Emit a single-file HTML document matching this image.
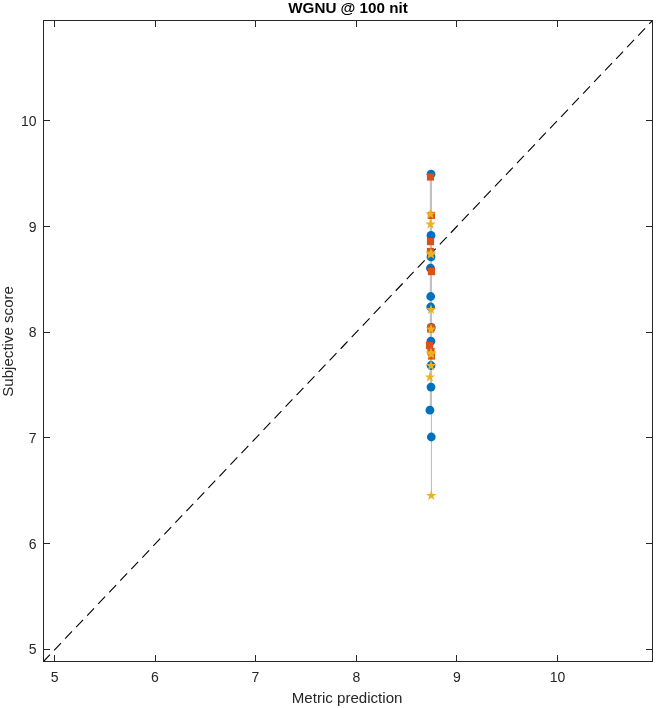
<!DOCTYPE html>
<html><head><meta charset="utf-8"><style>
html,body{margin:0;padding:0;background:#fff;width:656px;height:708px;overflow:hidden;position:relative;font-family:"Liberation Sans",sans-serif}
</style></head><body>
<svg width="656" height="708" viewBox="0 0 656 708" style="position:absolute;left:0;top:0;will-change:transform"><line x1="430.3" y1="176" x2="430.3" y2="410" stroke="#b8b8b8" stroke-width="1"/><line x1="431.4" y1="176" x2="431.4" y2="495" stroke="#b8b8b8" stroke-width="1"/><line x1="43.5" y1="661.5" x2="652.5" y2="20.5" stroke="#000" stroke-width="1.1" stroke-dasharray="10 6" stroke-dashoffset="0.6"/><circle cx="431" cy="174.2" r="4.4" fill="#0072BD"/><circle cx="431" cy="235.4" r="4.4" fill="#0072BD"/><circle cx="431" cy="256.9" r="4.4" fill="#0072BD"/><circle cx="430.5" cy="268.2" r="4.4" fill="#0072BD"/><circle cx="430.7" cy="296.5" r="4.4" fill="#0072BD"/><circle cx="430.7" cy="307.0" r="4.4" fill="#0072BD"/><circle cx="431.3" cy="327.5" r="4.4" fill="#0072BD"/><circle cx="430.9" cy="341.2" r="4.4" fill="#0072BD"/><circle cx="431" cy="365.5" r="4.4" fill="#0072BD"/><circle cx="431" cy="387.1" r="4.4" fill="#0072BD"/><circle cx="429.9" cy="410.2" r="4.4" fill="#0072BD"/><circle cx="431.3" cy="437.0" r="4.4" fill="#0072BD"/><rect x="426.90" y="173.40" width="7.2" height="7.2" fill="#D95319"/><rect x="427.80" y="211.80" width="7.2" height="7.2" fill="#D95319"/><rect x="426.90" y="238.00" width="7.2" height="7.2" fill="#D95319"/><rect x="426.90" y="247.90" width="7.2" height="7.2" fill="#D95319"/><rect x="427.90" y="268.00" width="7.2" height="7.2" fill="#D95319"/><rect x="427.50" y="323.70" width="7.2" height="7.2" fill="#D95319"/><rect x="427.10" y="325.40" width="7.2" height="7.2" fill="#D95319"/><rect x="425.90" y="341.90" width="7.2" height="7.2" fill="#D95319"/><rect x="427.40" y="347.90" width="7.2" height="7.2" fill="#D95319"/><rect x="427.90" y="352.40" width="7.2" height="7.2" fill="#D95319"/><path d="M430.50,208.70 L431.73,212.50 L435.73,212.50 L432.50,214.85 L433.73,218.65 L430.50,216.30 L427.27,218.65 L428.50,214.85 L425.27,212.50 L429.27,212.50Z" fill="#EDB120"/><path d="M430.50,218.80 L431.73,222.60 L435.73,222.60 L432.50,224.95 L433.73,228.75 L430.50,226.40 L427.27,228.75 L428.50,224.95 L425.27,222.60 L429.27,222.60Z" fill="#EDB120"/><path d="M430.80,247.80 L432.03,251.60 L436.03,251.60 L432.80,253.95 L434.03,257.75 L430.80,255.40 L427.57,257.75 L428.80,253.95 L425.57,251.60 L429.57,251.60Z" fill="#EDB120"/><path d="M431.00,249.00 L432.23,252.80 L436.23,252.80 L433.00,255.15 L434.23,258.95 L431.00,256.60 L427.77,258.95 L429.00,255.15 L425.77,252.80 L429.77,252.80Z" fill="#EDB120"/><path d="M431.00,304.10 L432.23,307.90 L436.23,307.90 L433.00,310.25 L434.23,314.05 L431.00,311.70 L427.77,314.05 L429.00,310.25 L425.77,307.90 L429.77,307.90Z" fill="#EDB120"/><path d="M431.00,323.80 L432.23,327.60 L436.23,327.60 L433.00,329.95 L434.23,333.75 L431.00,331.40 L427.77,333.75 L429.00,329.95 L425.77,327.60 L429.77,327.60Z" fill="#EDB120"/><path d="M431.00,347.50 L432.23,351.30 L436.23,351.30 L433.00,353.65 L434.23,357.45 L431.00,355.10 L427.77,357.45 L429.00,353.65 L425.77,351.30 L429.77,351.30Z" fill="#EDB120"/><path d="M431.00,348.80 L432.23,352.60 L436.23,352.60 L433.00,354.95 L434.23,358.75 L431.00,356.40 L427.77,358.75 L429.00,354.95 L425.77,352.60 L429.77,352.60Z" fill="#EDB120"/><path d="M431.00,360.30 L432.23,364.10 L436.23,364.10 L433.00,366.45 L434.23,370.25 L431.00,367.90 L427.77,370.25 L429.00,366.45 L425.77,364.10 L429.77,364.10Z" fill="#EDB120"/><path d="M429.90,371.60 L431.13,375.40 L435.13,375.40 L431.90,377.75 L433.13,381.55 L429.90,379.20 L426.67,381.55 L427.90,377.75 L424.67,375.40 L428.67,375.40Z" fill="#EDB120"/><path d="M431.30,490.10 L432.53,493.90 L436.53,493.90 L433.30,496.25 L434.53,500.05 L431.30,497.70 L428.07,500.05 L429.30,496.25 L426.07,493.90 L430.07,493.90Z" fill="#EDB120"/><g shape-rendering="crispEdges" fill="#262626"><rect x="43" y="20" width="610" height="1"/><rect x="43" y="661" width="610" height="1"/><rect x="43" y="20" width="1" height="642"/><rect x="652" y="20" width="1" height="642"/><rect x="54" y="655" width="1" height="6"/><rect x="54" y="21" width="1" height="6"/><rect x="155" y="655" width="1" height="6"/><rect x="155" y="21" width="1" height="6"/><rect x="255" y="655" width="1" height="6"/><rect x="255" y="21" width="1" height="6"/><rect x="356" y="655" width="1" height="6"/><rect x="356" y="21" width="1" height="6"/><rect x="456" y="655" width="1" height="6"/><rect x="456" y="21" width="1" height="6"/><rect x="557" y="655" width="1" height="6"/><rect x="557" y="21" width="1" height="6"/><rect x="44" y="649" width="6" height="1"/><rect x="646" y="649" width="6" height="1"/><rect x="44" y="543" width="6" height="1"/><rect x="646" y="543" width="6" height="1"/><rect x="44" y="437" width="6" height="1"/><rect x="646" y="437" width="6" height="1"/><rect x="44" y="332" width="6" height="1"/><rect x="646" y="332" width="6" height="1"/><rect x="44" y="226" width="6" height="1"/><rect x="646" y="226" width="6" height="1"/><rect x="44" y="120" width="6" height="1"/><rect x="646" y="120" width="6" height="1"/></g><text x="54.7" y="682" text-anchor="middle" font-family="Liberation Sans, sans-serif" font-size="14" fill="#262626">5</text><text x="154.8" y="682" text-anchor="middle" font-family="Liberation Sans, sans-serif" font-size="14" fill="#262626">6</text><text x="255.5" y="682" text-anchor="middle" font-family="Liberation Sans, sans-serif" font-size="14" fill="#262626">7</text><text x="356.5" y="682" text-anchor="middle" font-family="Liberation Sans, sans-serif" font-size="14" fill="#262626">8</text><text x="456.9" y="682" text-anchor="middle" font-family="Liberation Sans, sans-serif" font-size="14" fill="#262626">9</text><text x="557.5" y="682" text-anchor="middle" font-family="Liberation Sans, sans-serif" font-size="14" fill="#262626">10</text><text x="36.6" y="653.8" text-anchor="end" font-family="Liberation Sans, sans-serif" font-size="14" fill="#262626">5</text><text x="36.6" y="548.8" text-anchor="end" font-family="Liberation Sans, sans-serif" font-size="14" fill="#262626">6</text><text x="36.6" y="442.8" text-anchor="end" font-family="Liberation Sans, sans-serif" font-size="14" fill="#262626">7</text><text x="36.6" y="336.8" text-anchor="end" font-family="Liberation Sans, sans-serif" font-size="14" fill="#262626">8</text><text x="36.6" y="231.8" text-anchor="end" font-family="Liberation Sans, sans-serif" font-size="14" fill="#262626">9</text><text x="36.6" y="125.8" text-anchor="end" font-family="Liberation Sans, sans-serif" font-size="14" fill="#262626">10</text><text x="347.1" y="703" text-anchor="middle" font-family="Liberation Sans, sans-serif" font-size="15.1" fill="#262626">Metric prediction</text><text transform="translate(12.6,341.4) rotate(-90)" x="0" y="0" text-anchor="middle" font-family="Liberation Sans, sans-serif" font-size="15.1" fill="#262626">Subjective score</text><text x="348" y="13" text-anchor="middle" font-family="Liberation Sans, sans-serif" font-weight="bold" font-size="15.2" fill="#000">WGNU @ 100 nit</text></svg>
</body></html>
